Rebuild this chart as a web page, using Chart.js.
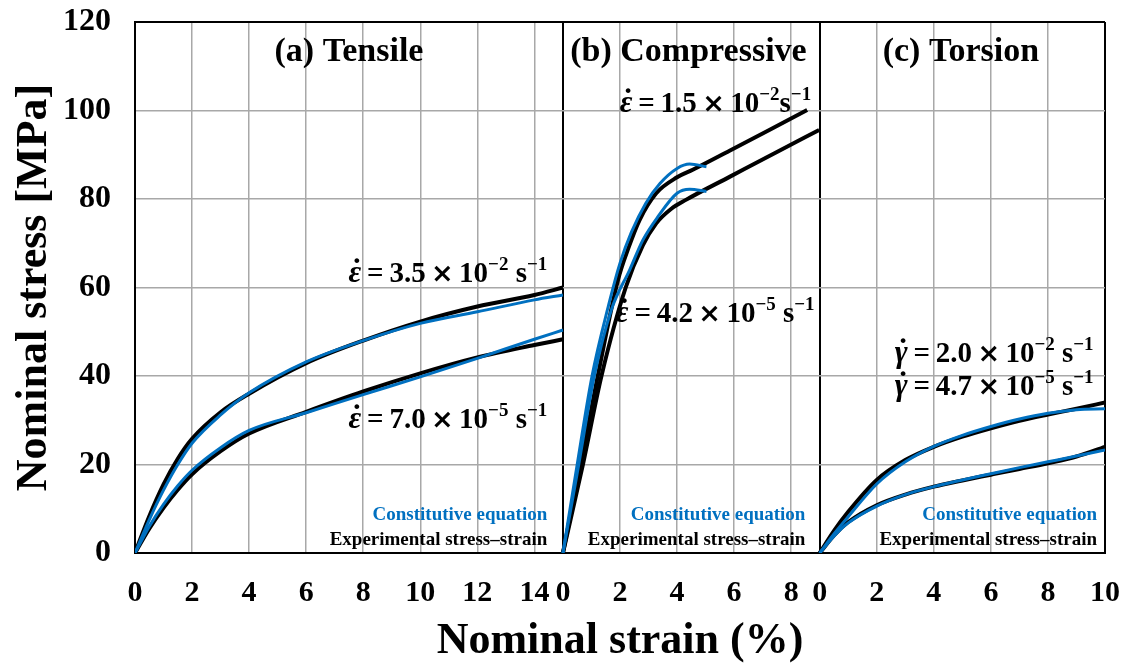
<!DOCTYPE html>
<html>
<head>
<meta charset="utf-8">
<script src="https://cdn.jsdelivr.net/npm/chart.js@4.4.1/dist/chart.umd.min.js"></script>
<style>
  html, body { margin: 0; padding: 0; background: #fff; }
</style>
</head>
<body>
<canvas id="grafica" width="1123" height="668"></canvas>
<script>
// Tres paneles en un solo eje x: (a) 0-15, (b) 0-9, (c) 0-10
const inicioPanel = [0, 15, 24];
const finEje = 34;

const ticksA = [0, 2, 4, 6, 8, 10, 12, 14];
const ticksB = [0, 2, 4, 6, 8];
const ticksC = [0, 2, 4, 6, 8, 10];
const ticksY = [0, 20, 40, 60, 80, 100, 120];

// (a) Traccion
const defA = [0, 0.5, 1, 1.5, 2, 3, 4, 6, 8, 10, 12, 14, 15];
const tensAltaExp = [0, 8.3, 15.5, 21.3, 25.8, 31.8, 36, 42.9, 48, 52.3, 55.7, 58.3, 60.0];
const tensAltaEc = [0, 7.5, 14.2, 20, 24.8, 31.2, 36.2, 43.2, 48, 51.9, 54.5, 57.2, 58.3];
const tensBajaExp = [0, 5.5, 10.2, 14.3, 17.8, 23.0, 27.0, 31.9, 36.5, 40.6, 44.2, 47.0, 48.3];
const tensBajaEc = [0, 6, 11, 15.2, 18.7, 23.8, 27.7, 31.7, 35.8, 39.8, 44.0, 48.3, 50.4];

// (b) Compresion
const defBAltaExp = [0, 0.62, 1.22, 1.93, 2.3, 2.69, 3.27, 4.0, 4.55, 5.84, 7.2, 8.56];
const compAltaExp = [0, 20, 40, 61.7, 69, 75.3, 81.3, 84.9, 86.6, 90.9, 95.5, 100.1];
const defBBajaExp = [0, 0.7, 1.35, 2.2, 2.8, 3.27, 3.8, 4.31, 5.84, 7.4, 8.98];
const compBajaExp = [0, 20, 40, 60, 69.5, 74.5, 77.8, 79.8, 85.0, 90.3, 95.6];
const defBAltaEc = [0, 0.45, 1.02, 1.6, 2.0, 2.4, 2.9, 3.4, 4.0, 4.44, 5.03];
const compAltaEc = [0, 18, 40, 56, 65.5, 72.5, 79, 83.5, 86.9, 87.9, 87.3];
const defBBajaEc = [0, 0.5, 1.1, 1.7, 2.34, 2.8, 3.33, 4.0, 4.44, 5.03];
const compBajaEc = [0, 18, 40, 55, 64, 70.7, 76, 81.3, 82.2, 81.7];

// (c) Torsion
const defC = [0, 0.5, 1, 2, 3, 4, 5, 6, 7, 8, 9, 10];
const torAltaExp = [0, 5, 9.3, 16.5, 21, 24, 26.3, 28.2, 29.9, 31.3, 32.6, 34.0];
const torAltaEc = [0, 4.3, 8.2, 15.6, 20.6, 24.1, 26.6, 28.6, 30.3, 31.6, 32.4, 32.6];
const torBajaExp = [0, 4, 7, 10.8, 13.2, 15.0, 16.4, 17.7, 19.0, 20.3, 21.8, 24.0];
const torBajaEc = [0, 3.8, 6.8, 10.6, 13.2, 15.0, 16.5, 17.9, 19.3, 20.6, 21.9, 23.3];

const AZUL = '#0070C0';
const NEGRO = '#000000';
const GRIS = '#a8a8a8';
const FUENTE = '"Liberation Serif", "Times New Roman", serif';

// posiciones y textos de los ticks del eje x
const xTickPos = [];
const xTickTxt = [];
[ticksA, ticksB, ticksC].forEach((lista, p) => {
  lista.forEach(v => {
    xTickPos.push(inicioPanel[p] + v);
    xTickTxt.push(String(v));
  });
});
const bordesPanel = [0, 15, 24, 34];

function serie(panel, deform, tension, color, ancho, orden) {
  return {
    data: deform.map((d, i) => ({ x: inicioPanel[panel] + d, y: tension[i] })),
    borderColor: color,
    borderWidth: ancho,
    pointRadius: 0,
    fill: false,
    cubicInterpolationMode: 'monotone',
    order: orden
  };
}

const datasets = [
  serie(0, defA, tensAltaEc, AZUL, 3, 0),
  serie(0, defA, tensBajaEc, AZUL, 3, 0),
  serie(1, defBAltaEc, compAltaEc, AZUL, 3, 0),
  serie(1, defBBajaEc, compBajaEc, AZUL, 3, 0),
  serie(2, defC, torAltaEc, AZUL, 3, 0),
  serie(2, defC, torBajaEc, AZUL, 3, 0),
  serie(0, defA, tensAltaExp, NEGRO, 4, 1),
  serie(0, defA, tensBajaExp, NEGRO, 4, 1),
  serie(1, defBAltaExp, compAltaExp, NEGRO, 4, 1),
  serie(1, defBBajaExp, compBajaExp, NEGRO, 4, 1),
  serie(2, defC, torAltaExp, NEGRO, 4, 1),
  serie(2, defC, torBajaExp, NEGRO, 4, 1)
];

// etiqueta de velocidad: simbolo con punto, mantisa x 10^exp s^-1
function dibujarVelocidad(ctx, simbolo, mantisa, exp, xDer, yBase, pegado) {
  const fGrande = 'bold 29px ' + FUENTE;
  const fSimb = 'italic bold 31px ' + FUENTE;
  const fPor = 'bold 27px "DejaVu Sans"';
  const fSup = 'bold 19px ' + FUENTE;
  const partes = [
    { t: simbolo, f: fSimb, dy: 0 },
    { t: '\u2009=\u2009', f: fGrande, dy: 0 },
    { t: mantisa, f: fGrande, dy: 0 },
    { t: '\u2009\u00d7\u2009', f: fPor, dy: 0 },
    { t: '10', f: fGrande, dy: 0 },
    { t: '\u2212' + exp, f: fSup, dy: -12 },
    { t: pegado ? 's' : ' s', f: fGrande, dy: 0 },
    { t: '\u22121', f: fSup, dy: -12 }
  ];
  let total = 0;
  partes.forEach(p => { ctx.font = p.f; p.w = ctx.measureText(p.t).width; total += p.w; });
  let x = xDer - total;
  ctx.textAlign = 'left';
  ctx.textBaseline = 'alphabetic';
  ctx.fillStyle = NEGRO;
  partes.forEach((p, i) => {
    ctx.font = p.f;
    ctx.fillText(p.t, x, yBase + p.dy);
    if (i === 0) {
      // punto de derivada temporal
      ctx.font = 'bold 32px ' + FUENTE;
      const wp = ctx.measureText('\u02d9').width;
      ctx.fillText('\u02d9', x + p.w / 2 - wp / 2 + 2, yBase - 2);
    }
    x += p.w;
  });
}

const textos = {
  id: 'textos',
  afterDatasetsDraw(chart) {
    const ctx = chart.ctx;
    const sx = chart.scales.x;
    const sy = chart.scales.y;
    const px = (p, v) => sx.getPixelForValue(inicioPanel[p] + v);
    const py = v => sy.getPixelForValue(v);
    ctx.save();

    // titulos de panel
    ctx.font = 'bold 34px ' + FUENTE;
    ctx.fillStyle = NEGRO;
    ctx.textAlign = 'center';
    ctx.textBaseline = 'middle';
    ctx.fillText('(a) Tensile', px(0, 7.5), py(113.2));
    ctx.fillText('(b) Compressive', px(1, 4.4), py(113.2));
    ctx.fillText('(c) Torsion', px(2, 4.95), py(113.2));

    // velocidades de deformacion
    dibujarVelocidad(ctx, '\u03b5', '3.5', '2', px(0, 14.45), py(61.3), false);
    dibujarVelocidad(ctx, '\u03b5', '7.0', '5', px(0, 14.45), py(28.2), false);
    dibujarVelocidad(ctx, '\u03b5', '1.5', '2', px(1, 8.7), py(99.6), true);
    dibujarVelocidad(ctx, '\u03b5', '4.2', '5', px(1, 8.82), py(52.2), false);
    dibujarVelocidad(ctx, '\u03b3', '2.0', '2', px(2, 9.6), py(43.2), false);
    dibujarVelocidad(ctx, '\u03b3', '4.7', '5', px(2, 9.6), py(35.7), false);

    // leyenda en cada panel
    const leyenda = [[0, 14.45], [1, 8.5], [2, 9.72]];
    ctx.font = 'bold 19px ' + FUENTE;
    ctx.textAlign = 'right';
    ctx.textBaseline = 'middle';
    leyenda.forEach(([p, x]) => {
      ctx.fillStyle = AZUL;
      ctx.fillText('Constitutive equation', px(p, x), py(8.6));
      ctx.fillStyle = NEGRO;
      ctx.fillText('Experimental stress\u2013strain', px(p, x), py(2.9));
    });
    ctx.restore();
  }
};

new Chart(document.getElementById('grafica'), {
  type: 'line',
  data: { datasets },
  options: {
    responsive: false,
    animation: false,
    layout: { padding: { top: 22, right: 18, left: 0, bottom: 0 } },
    plugins: { legend: { display: false }, tooltip: { enabled: false } },
    scales: {
      x: {
        type: 'linear',
        min: 0,
        max: finEje,
        afterBuildTicks: s => { s.ticks = xTickPos.map(v => ({ value: v })); },
        afterFit: s => { s.height = 115; s.paddingLeft = 0; s.paddingRight = 0; },
        ticks: {
          autoSkip: false,
          maxRotation: 0,
          padding: 22,
          color: NEGRO,
          font: { family: FUENTE, size: 30, weight: 'bold' },
          callback: (v, i) => xTickTxt[i]
        },
        grid: {
          drawTicks: false,
          color: c => bordesPanel.includes(c.tick.value) ? NEGRO : GRIS,
          lineWidth: c => bordesPanel.includes(c.tick.value) ? 2 : 1.5
        },
        border: { color: NEGRO, width: 2 },
        title: {
          display: true,
          text: 'Nominal strain (%)',
          color: NEGRO,
          font: { family: FUENTE, size: 44, weight: 'bold' },
          padding: { top: 0, bottom: 0 }
        }
      },
      y: {
        min: 0,
        max: 120,
        afterBuildTicks: s => { s.ticks = ticksY.map(v => ({ value: v })); },
        afterFit: s => { s.width = 135; s.paddingTop = 0; s.paddingBottom = 0; },
        ticks: {
          padding: 24,
          color: NEGRO,
          font: { family: FUENTE, size: 32, weight: 'bold' }
        },
        grid: {
          drawTicks: false,
          color: c => c.tick.value === 120 ? NEGRO : GRIS,
          lineWidth: c => c.tick.value === 120 ? 2 : 1.5
        },
        border: { color: NEGRO, width: 2 },
        title: {
          display: true,
          text: 'Nominal stress [MPa]',
          color: NEGRO,
          font: { family: FUENTE, size: 44, weight: 'bold' },
          padding: { top: 8, bottom: 0 }
        }
      }
    }
  },
  plugins: [textos]
});
</script>
</body>
</html>
